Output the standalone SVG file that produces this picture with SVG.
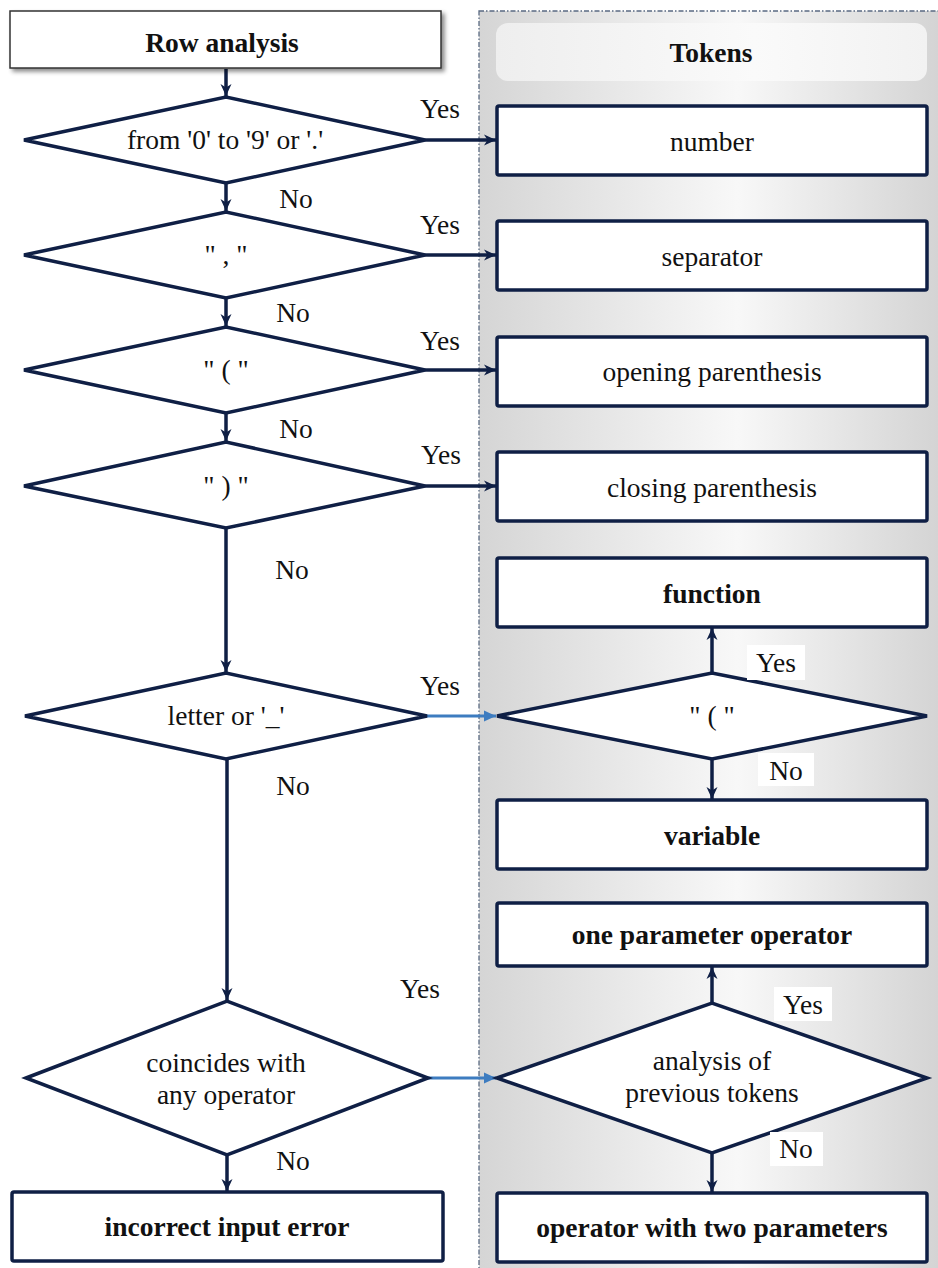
<svg xmlns="http://www.w3.org/2000/svg" width="938" height="1268" viewBox="0 0 938 1268">
<defs>
<linearGradient id="panelG" x1="0" y1="0" x2="1" y2="0">
<stop offset="0" stop-color="#d5d5d5"/>
<stop offset="0.55" stop-color="#f8f8f8"/>
<stop offset="1" stop-color="#d2d2d2"/>
</linearGradient>
<linearGradient id="headG" x1="0" y1="0" x2="1" y2="0">
<stop offset="0" stop-color="#eeeeee"/>
<stop offset="0.6" stop-color="#fafafa"/>
<stop offset="1" stop-color="#f2f2f2"/>
</linearGradient>
<filter id="shadow" x="-10%" y="-20%" width="120%" height="150%">
<feDropShadow dx="3" dy="3" stdDeviation="2" flood-color="#000" flood-opacity="0.45"/>
</filter>
<marker id="arr" markerWidth="13" markerHeight="12" refX="12" refY="6" orient="auto" markerUnits="userSpaceOnUse">
<path d="M0,0.5 L12,6 L0,11.5 L3.5,6 Z" fill="#0f1f45"/>
</marker>
<marker id="arrB" markerWidth="13" markerHeight="12" refX="12" refY="6" orient="auto" markerUnits="userSpaceOnUse">
<path d="M0,0.5 L12,6 L0,11.5 Z" fill="#3d7cc0"/>
</marker>
<style>
.box{fill:#fff;stroke:#0f1f45;stroke-width:3.5}
.dia{fill:#fff;stroke:#0f1f45;stroke-width:3.5;stroke-linejoin:miter}
.t{font-family:"Liberation Serif","Times New Roman",serif;font-size:27.5px;fill:#111;text-anchor:middle}
.b{font-weight:bold}
.ln{fill:none;stroke:#0f1f45;stroke-width:3.5}
.lnB{fill:none;stroke:#3d7cc0;stroke-width:3}
.lbl{font-family:"Liberation Serif","Times New Roman",serif;font-size:27.5px;fill:#111;text-anchor:middle}
.wb{fill:#fff}
</style>
</defs>
<rect width="938" height="1268" fill="#fff"/>

<g id="panel">
<rect x="479" y="11" width="470" height="1270" fill="url(#panelG)" stroke="#5a6a82" stroke-width="1.3" stroke-dasharray="5,2,1.5,2"/>
<rect x="496" y="23" width="431" height="58" rx="12" fill="url(#headG)"/>
<text class="t b" x="711" y="62">Tokens</text>
</g>

<g id="connectors">
<line class="ln" x1="226" y1="69" x2="226" y2="96" marker-end="url(#arr)"/>
<line class="ln" x1="226" y1="183" x2="226" y2="211" marker-end="url(#arr)"/>
<line class="ln" x1="226" y1="298" x2="226" y2="326" marker-end="url(#arr)"/>
<line class="ln" x1="226" y1="413" x2="226" y2="441" marker-end="url(#arr)"/>
<line class="ln" x1="226" y1="528" x2="226" y2="672" marker-end="url(#arr)"/>
<line class="ln" x1="227" y1="759" x2="227" y2="1000" marker-end="url(#arr)"/>
<line class="ln" x1="227" y1="1155" x2="227" y2="1191" marker-end="url(#arr)"/>
<line class="ln" x1="425" y1="140" x2="496" y2="140" marker-end="url(#arr)"/>
<line class="ln" x1="425" y1="255" x2="496" y2="255" marker-end="url(#arr)"/>
<line class="ln" x1="425" y1="370" x2="496" y2="370" marker-end="url(#arr)"/>
<line class="ln" x1="425" y1="486" x2="496" y2="486" marker-end="url(#arr)"/>
<line class="lnB" x1="427" y1="716" x2="496" y2="716" marker-end="url(#arrB)"/>
<line class="lnB" x1="428" y1="1078" x2="496" y2="1078" marker-end="url(#arrB)"/>
<line class="ln" x1="712" y1="673" x2="712" y2="628" marker-end="url(#arr)"/>
<line class="ln" x1="712" y1="759" x2="712" y2="799" marker-end="url(#arr)"/>
<line class="ln" x1="712" y1="1003" x2="712" y2="967" marker-end="url(#arr)"/>
<line class="ln" x1="712" y1="1153" x2="712" y2="1192" marker-end="url(#arr)"/>
</g>

<g id="row-analysis">
<rect x="10" y="11" width="431" height="57" fill="#fff" stroke="#333" stroke-width="1.5" filter="url(#shadow)"/>
<text class="t b" x="222" y="52">Row analysis</text>
</g>

<g id="d1">
<polygon class="dia" points="24,140 226,97 425,140 226,183"/>
<text class="t" x="225" y="149">from '0' to '9' or '.'</text>
</g>
<g id="d2">
<polygon class="dia" points="24,255 226,212 425,255 226,298"/>
<text class="t" x="226" y="264">" , "</text>
</g>
<g id="d3">
<polygon class="dia" points="24,370 226,327 425,370 226,413"/>
<text class="t" x="226" y="379">" ( "</text>
</g>
<g id="d4">
<polygon class="dia" points="24,486 226,442 425,486 226,528"/>
<text class="t" x="226" y="495">" ) "</text>
</g>
<g id="d5">
<polygon class="dia" points="25,716 226,673 427,716 226,759"/>
<text class="t" x="226" y="725">letter or '_'</text>
</g>
<g id="d6">
<polygon class="dia" points="26,1078 227,1001 428,1078 227,1155"/>
<text class="t" x="226" y="1072">coincides with</text>
<text class="t" x="226" y="1104">any operator</text>
</g>

<g id="number"><rect class="box" x="497" y="106" width="430" height="69" rx="2"/><text class="t" x="712" y="151">number</text></g>
<g id="separator"><rect class="box" x="497" y="221" width="430" height="69" rx="2"/><text class="t" x="712" y="266">separator</text></g>
<g id="opening"><rect class="box" x="497" y="337" width="430" height="69" rx="2"/><text class="t" x="712" y="381">opening parenthesis</text></g>
<g id="closing"><rect class="box" x="497" y="452" width="430" height="69" rx="2"/><text class="t" x="712" y="497">closing parenthesis</text></g>
<g id="function"><rect class="box" x="497" y="558" width="430" height="69" rx="2"/><text class="t b" x="712" y="603">function</text></g>
<g id="d7">
<polygon class="dia" points="497,716 712,673 927,716 712,759"/>
<text class="t" x="712" y="725">" ( "</text>
</g>
<g id="variable"><rect class="box" x="497" y="800" width="430" height="69" rx="2"/><text class="t b" x="712" y="845">variable</text></g>
<g id="one-param"><rect class="box" x="497" y="903" width="430" height="63" rx="2"/><text class="t b" x="712" y="944">one parameter operator</text></g>
<g id="d8">
<polygon class="dia" points="497,1078 712,1003 927,1078 712,1153"/>
<text class="t" x="712" y="1070">analysis of</text>
<text class="t" x="712" y="1102">previous tokens</text>
</g>
<g id="incorrect"><rect class="box" x="12" y="1192" width="431" height="69" rx="2"/><text class="t b" x="227" y="1236">incorrect input error</text></g>
<g id="two-param"><rect class="box" x="497" y="1193" width="430" height="69" rx="2"/><text class="t b" x="712" y="1237">operator with two parameters</text></g>

<g id="labels">
<text class="lbl" x="440" y="118">Yes</text>
<text class="lbl" x="296" y="208">No</text>
<text class="lbl" x="440" y="234">Yes</text>
<text class="lbl" x="293" y="322">No</text>
<text class="lbl" x="440" y="350">Yes</text>
<text class="lbl" x="296" y="438">No</text>
<text class="lbl" x="441" y="464">Yes</text>
<text class="lbl" x="292" y="579">No</text>
<text class="lbl" x="440" y="695">Yes</text>
<text class="lbl" x="293" y="795">No</text>
<text class="lbl" x="420" y="998">Yes</text>
<text class="lbl" x="293" y="1170">No</text>
<rect class="wb" x="747" y="645" width="58" height="35"/>
<text class="lbl" x="776" y="672">Yes</text>
<rect class="wb" x="758" y="753" width="56" height="33"/>
<text class="lbl" x="786" y="780">No</text>
<rect class="wb" x="774" y="987" width="58" height="34"/>
<text class="lbl" x="803" y="1014">Yes</text>
<rect class="wb" x="770" y="1132" width="53" height="34"/>
<text class="lbl" x="796" y="1158">No</text>
</g>
</svg>
